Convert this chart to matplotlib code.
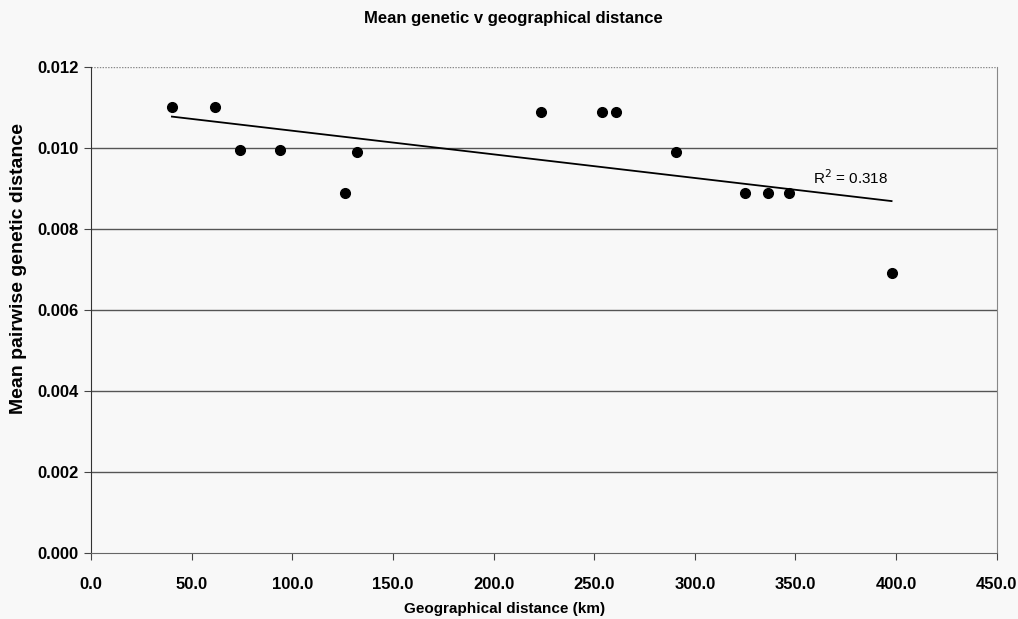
import numpy as np
import matplotlib
matplotlib.use("Agg")
import matplotlib.pyplot as plt

distance_km = [40.2, 61.4, 73.9, 93.8, 126.0, 132.4, 223.4, 253.8, 261.1,
               290.8, 324.9, 336.5, 346.7, 397.8]
genetic_dist = [0.01100, 0.01100, 0.00995, 0.00995, 0.00888, 0.00990, 0.01090,
                0.01090, 0.01090, 0.00990, 0.00888, 0.00888, 0.00890, 0.00691]
x_ticks = [0, 50, 100, 150, 200, 250, 300, 350, 400, 450]
y_ticks = [0.000, 0.002, 0.004, 0.006, 0.008, 0.010, 0.012]
r2_text = "R$^2$ = 0.318"

plt.rcParams['font.family'] = ['Liberation Sans', 'DejaVu Sans']

fig = plt.figure(figsize=(10.18, 6.19), dpi=100, facecolor='#f8f8f8')
ax = fig.add_axes([0.0894, 0.1066, 0.8896, 0.7852], facecolor='#f8f8f8')

# gridlines
for y in y_ticks[1:-1]:
    ax.axhline(y, color='#555555', lw=1.0, zorder=1)
ax.axhline(0.012, color='#888888', lw=1.0, ls=(0, (1, 1)), zorder=1)

ax.plot(distance_km, genetic_dist, 'o', color='black', markersize=7, zorder=3)

# linear trendline
slope, intercept = np.polyfit(distance_km, genetic_dist, 1)
xs = np.array([min(distance_km), max(distance_km)])
ax.plot(xs, slope * xs + intercept, color='black', lw=1.3, zorder=2)
ax.text(359, 0.00926, r2_text, fontsize=11, va='center', ha='left')

ax.set_xlim(0, 450)
ax.set_ylim(0, 0.012)
ax.set_xticks(x_ticks)
ax.set_xticklabels([f"{v:.1f}" for v in x_ticks], fontsize=12, fontweight='bold')
ax.set_yticks(y_ticks)
ax.set_yticklabels([f"{v:.3f}" for v in y_ticks], fontsize=12, fontweight='bold')
ax.tick_params(axis='x', length=5, direction='out', pad=12, color='#444444')
ax.tick_params(axis='y', length=5, direction='out', pad=4, color='#444444')

ax.spines['top'].set_visible(False)
ax.spines['left'].set_color('#333333')
ax.spines['bottom'].set_color('#666666')
ax.spines['right'].set_color('#888888')

fig.text(513 / 1018, 1 - 19 / 619, "Mean genetic v geographical distance",
         ha='center', va='center', fontsize=12, fontweight='bold')
fig.text(505 / 1018, 1 - 609 / 619, "Geographical distance (km)",
         ha='center', va='center', fontsize=11, fontweight='bold')
fig.text(19 / 1018, 1 - 268 / 619, "Mean pairwise genetic distance",
         ha='center', va='center', rotation=90, fontsize=14, fontweight='bold')

plt.savefig("out.png", dpi=100, facecolor=fig.get_facecolor())
